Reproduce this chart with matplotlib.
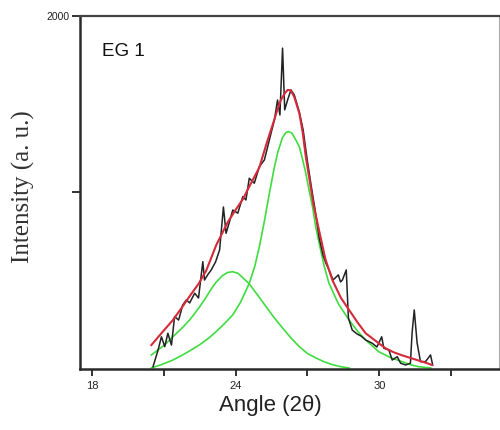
import numpy as np
import matplotlib
matplotlib.use("Agg")
import matplotlib.pyplot as plt
from matplotlib.ticker import FixedLocator, NullFormatter

# measured XRD pattern (angle 2theta, intensity)
angle = [20.55, 20.76, 20.90, 21.04, 21.17, 21.32, 21.45, 21.62, 21.79, 21.94,
         22.08, 22.29, 22.45, 22.63, 22.70, 22.83, 22.98, 23.16, 23.33, 23.49,
         23.60, 23.74, 23.88, 24.09, 24.30, 24.43, 24.57, 24.78, 24.99, 25.20,
         25.41, 25.62, 25.75, 25.85, 25.96, 26.05, 26.17, 26.31, 26.45, 26.66,
         26.82, 26.99, 27.15, 27.32, 27.49, 27.65, 27.77, 27.90, 28.07, 28.29,
         28.38, 28.46, 28.62, 28.71, 28.87, 29.07, 29.24, 29.43, 29.71, 29.90,
         30.10, 30.19, 30.40, 30.54, 30.75, 30.89, 31.10, 31.30, 31.37, 31.46,
         31.58, 31.72, 31.93, 32.14, 32.23]
intensity = [10, 105, 180, 124, 200, 133, 294, 275, 360, 389,
             372, 427, 400, 606, 502, 531, 559, 604, 672, 916,
             767, 831, 899, 881, 975, 956, 1079, 1051, 1145, 1183,
             1297, 1410, 1523, 1438, 1817, 1467, 1523, 1580, 1552, 1455,
             1353, 1183, 1041, 899, 740, 644, 597, 559, 502, 531,
             491, 502, 559, 287, 218, 196, 184, 162, 143, 122,
             180, 115, 105, 48, 67, 30, 20, 30, 201, 332,
             145, 39, 39, 77, 20]

# total fit
fit_x = [20.48, 20.90, 21.38, 21.75, 22.08, 22.45, 22.77, 23.19, 23.67, 24.00,
         24.30, 24.60, 24.99, 25.30, 25.54, 25.75, 25.89, 26.05, 26.17, 26.30,
         26.45, 26.66, 26.80, 26.93, 27.10, 27.25, 27.49, 27.75, 28.04, 28.40,
         28.74, 29.10, 29.43, 29.98, 30.26, 30.60, 30.95, 31.30, 31.65, 32.00,
         32.20]
fit_y = [133, 200, 275, 345, 410, 480, 555, 700, 830, 900,
         960, 1040, 1140, 1280, 1380, 1470, 1523, 1560, 1580, 1578,
         1540, 1448, 1340, 1202, 1060, 930, 780, 620, 502, 400,
         332, 260, 200, 143, 115, 92, 75, 60, 45, 30,
         20]

# peak 1 (~24 deg)
p1_x = [20.48, 21.00, 21.38, 21.80, 22.08, 22.50, 22.77, 23.00, 23.19, 23.45,
        23.67, 23.88, 24.10, 24.30, 24.57, 24.90, 25.27, 25.60, 25.96, 26.30,
        26.66, 27.00, 27.35, 27.70, 28.04, 28.40, 28.74]
p1_y = [77, 130, 180, 235, 275, 350, 405, 455, 490, 527,
        545, 549, 540, 515, 480, 420, 351, 290, 230, 175,
        124, 85, 60, 38, 22, 10, 3]

# peak 2 (~26.2 deg)
p2_x = [20.48, 20.90, 21.38, 21.80, 22.08, 22.50, 22.90, 23.19, 23.50, 23.88,
        24.20, 24.57, 24.80, 24.99, 25.20, 25.41, 25.60, 25.75, 25.95, 26.10,
        26.21, 26.35, 26.50, 26.66, 26.80, 26.93, 27.07, 27.21, 27.35, 27.52,
        27.70, 27.90, 28.30, 28.74, 29.10, 29.43, 29.98, 30.50, 30.95, 31.30,
        31.65, 32.15]
p2_y = [3, 22, 48, 78, 100, 135, 175, 210, 250, 304,
        375, 483, 580, 690, 835, 994, 1130, 1221, 1308, 1338,
        1344, 1335, 1300, 1258, 1185, 1108, 1010, 918, 800, 691,
        580, 483, 365, 275, 210, 162, 95, 60, 39, 22,
        10, 3]

fig = plt.figure(figsize=(5, 4.3), dpi=100)
ax = fig.add_axes([0.16, 0.143, 0.838, 0.820])

ax.plot(p1_x, p1_y, color='#3fdc3f', lw=1.2, zorder=1)
ax.plot(p2_x, p2_y, color='#3fdc3f', lw=1.2, zorder=1)
ax.plot(angle, intensity, color='#222222', lw=1.1, zorder=2)
ax.plot(fit_x, fit_y, color='#d42a3a', lw=1.5, zorder=3)

ax.set_xlim(17.5, 35)
ax.set_ylim(0, 2000)

ax.xaxis.set_major_locator(FixedLocator([18, 24, 30]))
ax.xaxis.set_minor_locator(FixedLocator([21, 27, 33]))
ax.xaxis.set_minor_formatter(NullFormatter())
ax.set_yticks([1000, 2000])
ax.set_yticklabels(['', '2000'])

ax.tick_params(axis='x', which='both', direction='out', length=5, width=1.3,
               pad=4, labelsize=8, colors='#222222')
ax.tick_params(axis='y', which='both', direction='out', length=6, width=1.3,
               pad=1.5, labelsize=7.5, colors='#222222')
for lab in ax.get_xticklabels() + ax.get_yticklabels():
    lab.set_fontfamily('Liberation Sans')

for s in ['left', 'bottom']:
    ax.spines[s].set_linewidth(1.8)
    ax.spines[s].set_color('#2a2a2a')
ax.spines['top'].set_linewidth(1.6)
ax.spines['top'].set_color('#444444')
ax.spines['right'].set_linewidth(0.8)
ax.spines['right'].set_color('#aaaaaa')

ax.text(0.0525, 0.923, 'EG 1', transform=ax.transAxes, fontsize=13.5,
        family='Liberation Sans', ha='left', va='top', color='#111111')

ax.set_xlabel('Angle (2θ)', fontsize=16, family='Liberation Sans', color='#222222')
ax.xaxis.set_label_coords(0.455, -0.075)
ax.set_ylabel('Intensity (a. u.)', fontsize=18, family='Liberation Serif',
              color='#333333', va='center')
ax.yaxis.set_label_coords(-0.134, 0.516)

fig.savefig('out.png', dpi=100)
